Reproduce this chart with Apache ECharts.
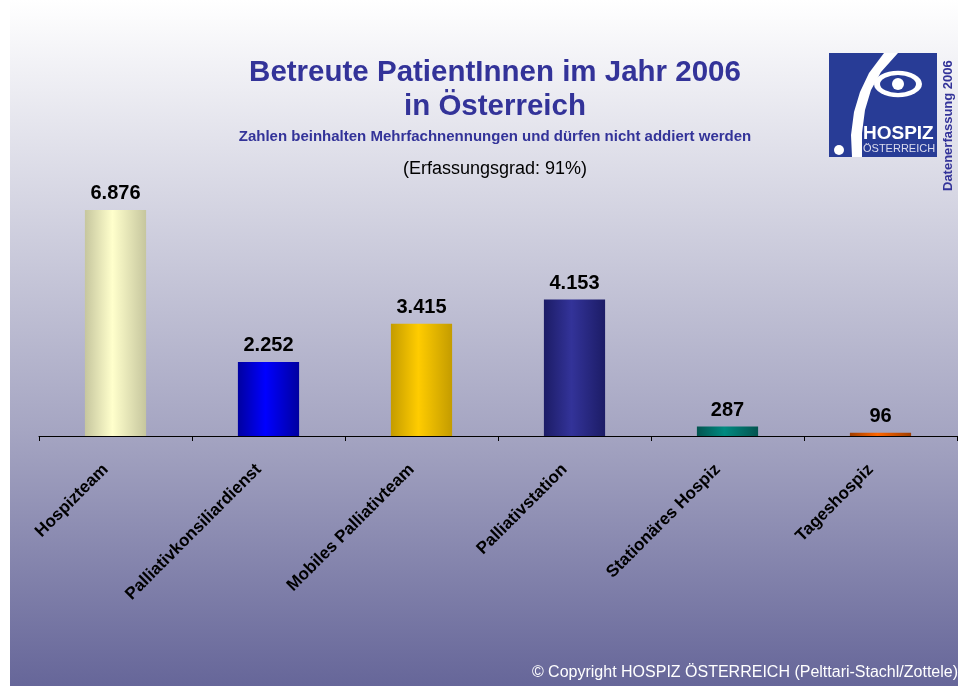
<!DOCTYPE html>
<html>
<head>
<meta charset="utf-8">
<script src="https://cdn.jsdelivr.net/npm/echarts@6/dist/echarts.min.js"></script>
<style>
  html, body { margin: 0; padding: 0; background: #fff; }
  #chart { width: 958px; height: 686px; }
</style>
</head>
<body>
<div id="chart"></div>
<script>
const categories = ['Hospizteam', 'Palliativkonsiliardienst', 'Mobiles Palliativteam', 'Palliativstation', 'Stationäres Hospiz', 'Tageshospiz']
const patients = [6876, 2252, 3415, 4153, 287, 96]
// edge / center colour of each bar
const barEdge = ['#c6c69e', '#0000a0', '#c49c00', '#1c1c66', '#035450', '#a03e00']
const barMid = ['#ffffcc', '#0000ff', '#ffcc00', '#333399', '#008a80', '#ff6600']

const fmt = v => String(v).replace(/\B(?=(\d{3})+(?!\d))/g, '.')

const myChart = echarts.init(document.getElementById('chart'))

const logoBlue = '#283c96'
const font = 'Liberation Sans, Arial, sans-serif'

const option = {
  backgroundColor: '#ffffff',
  animation: false,
  textStyle: { fontFamily: font },
  title: [
    {
      text: 'Betreute PatientInnen im Jahr 2006\nin Österreich',
      left: 490, top: 51, textAlign: 'center',
      textStyle: { color: '#333399', fontSize: 29.5, fontWeight: 'bold', lineHeight: 34 }
    },
    {
      text: 'Zahlen beinhalten Mehrfachnennungen und dürfen nicht addiert werden',
      left: 490, top: 124, textAlign: 'center',
      textStyle: { color: '#333399', fontSize: 15, fontWeight: 'bold' }
    },
    {
      text: '(Erfassungsgrad: 91%)',
      left: 490, top: 155, textAlign: 'center',
      textStyle: { color: '#000', fontSize: 18, fontWeight: 'normal' }
    }
  ],
  graphic: [
    {
      type: 'rect', z: -10, silent: true,
      shape: { x: 10, y: 0, width: 948, height: 686 },
      style: {
        fill: new echarts.graphic.LinearGradient(0, 0, 0, 1, [
          { offset: 0, color: '#ffffff' },
          { offset: 0.63, color: '#a5a5c2' },
          { offset: 1, color: '#666699' }
        ])
      }
    },
    // logo
    { type: 'rect', shape: { x: 829, y: 53, width: 108, height: 104 }, style: { fill: logoBlue } },
    {
      type: 'polygon',
      shape: { points: [[852, 157], [851, 135], [854, 112], [860, 92], [869, 73], [884, 53], [898, 53], [881, 72], [871, 90], [865, 110], [862, 133], [862, 157]] },
      style: { fill: '#ffffff' }
    },
    { type: 'circle', shape: { cx: 839, cy: 150, r: 5 }, style: { fill: '#ffffff' } },
    { type: 'circle', shape: { cx: 0, cy: 0, r: 24 }, x: 898, y: 84, scaleY: 0.55, style: { fill: '#ffffff' } },
    { type: 'circle', shape: { cx: 0, cy: 0, r: 18 }, x: 898, y: 84, scaleY: 0.5, style: { fill: logoBlue } },
    { type: 'circle', shape: { cx: 898, cy: 84, r: 6 }, style: { fill: '#ffffff' } },
    {
      type: 'text', x: 863, y: 124,
      style: { text: 'HOSPIZ', fill: '#ffffff', font: 'bold 19px ' + font }
    },
    {
      type: 'text', x: 863, y: 143,
      style: { text: 'ÖSTERREICH', fill: '#dde', font: '11px ' + font }
    },
    {
      type: 'text', rotation: Math.PI / 2, x: 942, y: 191,
      style: { text: 'Datenerfassung 2006', fill: '#333399', font: 'bold 13px ' + font }
    },
    {
      type: 'text', right: 0, top: 665,
      style: { text: '© Copyright HOSPIZ ÖSTERREICH (Pelttari-Stachl/Zottele)', fill: '#ffffff', font: '16px ' + font }
    }
  ],
  grid: { left: 39, right: 1, top: 173, bottom: 250 },
  xAxis: {
    type: 'category',
    data: categories,
    axisLine: { lineStyle: { color: '#000', width: 1 } },
    axisTick: { show: true, length: 5, lineStyle: { color: '#000' } },
    axisLabel: {
      rotate: 45, interval: 0, color: '#000', fontSize: 17, fontWeight: 'bold',
      margin: 21, padding: [0, 14, 0, 0]
    }
  },
  yAxis: {
    type: 'value', min: 0, max: 8000, show: false, splitLine: { show: false }
  },
  series: [
    {
      type: 'bar',
      barWidth: '40%',
      data: patients.map((v, i) => ({
        value: v,
        itemStyle: {
          color: new echarts.graphic.LinearGradient(0, 0, 1, 0, [
            { offset: 0, color: barEdge[i] },
            { offset: 0.45, color: barMid[i] },
            { offset: 1, color: barEdge[i] }
          ])
        }
      })),
      label: {
        show: true, position: 'top', distance: 6,
        color: '#000', fontSize: 20, fontWeight: 'bold',
        formatter: p => fmt(p.value)
      }
    }
  ]
}
myChart.setOption(option)
</script>
</body>
</html>
